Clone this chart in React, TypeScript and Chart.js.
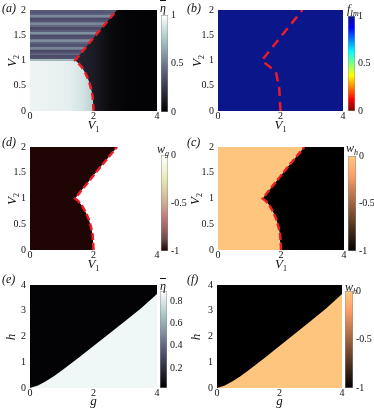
import React, { useEffect, useRef } from "react";
import { Chart, registerables } from "chart.js";
Chart.register(...registerables);

const FONT = "'Liberation Serif', 'Times New Roman', serif";
const INK = "#111";
const RED = "#ec1c24";

// ---------------- data ----------------
// phase boundary in the (V1, V2) plane: lower branch (V2 from 0 to the cusp) and upper branch
const lowerV1 = [2.0, 1.99, 1.97, 1.92, 1.85, 1.76, 1.64, 1.52, 1.42];
const lowerV2 = [0, 0.15, 0.3, 0.45, 0.6, 0.73, 0.86, 0.95, 1.0];
const upperV1 = [1.42, 1.6, 1.9, 2.2, 2.5, 2.74];
const upperV2 = [1.0, 1.14, 1.37, 1.6, 1.82, 2.0];
// coarse boundary drawn in panel (b)
const coarseV1 = [2.0, 1.96, 1.85, 1.4, 2.7];
const coarseV2 = [0, 0.45, 0.78, 1.0, 2.0];
// boundary in the (g, h) plane (panels e, f)
const boundaryG = [0, 0.25, 0.5, 0.75, 1, 1.5, 2, 2.5, 3, 3.5, 4];
const boundaryH = [0, 0.1, 0.26, 0.46, 0.68, 1.15, 1.63, 2.12, 2.6, 3.1, 3.65];
// striped eta-bar values in panel (a), V2 from 1 (first) to 2 (last)
const stripeEta = [0.72, 0.36, 0.34, 0.45, 0.38, 0.33, 0.48, 0.53, 0.37, 0.35, 0.42, 0.56, 0.5, 0.36, 0.34, 0.47, 0.57, 0.4, 0.35, 0.33, 0.44, 0.54, 0.49, 0.37, 0.34, 0.46, 0.55, 0.41, 0.36, 0.39];
const stripeFrom = 1;
const stripeTo = 2;
// axis ticks
const v1Ticks = [0, 2, 4];
const v2Ticks = [0, 0.5, 1, 1.5, 2];
const gTicks = [0, 2, 4];
const hTicks = [0, 1, 2, 3, 4];
// colour-bar ticks and ranges
const etaTicks = [0, 0.5, 1];
const fTicks = [0, 0.5, 1];
const wTicks = [-1, -0.5, 0];
const etaTicksE = [0.2, 0.4, 0.6, 0.8];
const etaRangeE = [0.02, 0.89];

// ---------------- colour maps (style) ----------------
type Stop = [number, number[]];
const BONE: Stop[] = [[0, [0, 0, 0]], [0.375, [84, 84, 116]], [0.75, [167, 199, 199]], [1, [255, 255, 255]]];
const JET_R: Stop[] = [[0, [128, 0, 0]], [0.125, [255, 0, 0]], [0.375, [255, 255, 0]], [0.625, [0, 255, 255]], [0.875, [0, 0, 255]], [1, [10, 22, 138]]];
const PINK: Stop[] = [[0, [30, 0, 0]], [0.125, [112, 74, 74]], [0.25, [159, 104, 104]], [0.375, [195, 128, 128]], [0.5, [208, 170, 147]], [0.75, [233, 233, 180]], [1, [255, 255, 255]]];
const COPPER: Stop[] = [[0, [0, 0, 0]], [0.8, [255, 159, 102]], [1, [255, 199, 127]]];

function cmap(stops: Stop[], t: number): string {
  t = Math.max(0, Math.min(1, t));
  for (let i = 1; i < stops.length; i++) {
    if (t <= stops[i][0]) {
      const [t0, c0] = stops[i - 1];
      const [t1, c1] = stops[i];
      const f = (t - t0) / (t1 - t0 || 1);
      const c = c0.map((v, k) => Math.round(v + (c1[k] - v) * f));
      return `rgb(${c[0]},${c[1]},${c[2]})`;
    }
  }
  const c = stops[stops.length - 1][1];
  return `rgb(${c[0]},${c[1]},${c[2]})`;
}

const pts = (xs: number[], ys: number[]) => xs.map((x, i) => ({ x, y: ys[i] }));
const boundaryPts = [...pts(lowerV1, lowerV2), ...pts(upperV1.slice(1), upperV2.slice(1))];

function hGradient(stops: [number, string][], fallback: string) {
  return (ctx: any) => {
    const chart = ctx.chart;
    if (!chart.chartArea) return fallback;
    const xs = chart.scales.x;
    const x0 = xs.getPixelForValue(stops[0][0]);
    const x1 = xs.getPixelForValue(stops[stops.length - 1][0]);
    const g = chart.ctx.createLinearGradient(x0, 0, x1, 0);
    stops.forEach(([v, c]) => g.addColorStop(Math.max(0, Math.min(1, (xs.getPixelForValue(v) - x0) / (x1 - x0))), c));
    return g;
  };
}

function stripeGradient(ctx: any) {
  const chart = ctx.chart;
  if (!chart.chartArea) return cmap(BONE, 0.42);
  const ys = chart.scales.y;
  const y0 = ys.getPixelForValue(stripeFrom);
  const y1 = ys.getPixelForValue(stripeTo);
  const g = chart.ctx.createLinearGradient(0, y0, 0, y1);
  const n = stripeEta.length;
  stripeEta.forEach((v, i) => {
    const c = cmap(BONE, v);
    g.addColorStop(i / n, c);
    g.addColorStop((i + 1) / n, c);
  });
  return g;
}

const region = (data: any[], bg: any, order: number) => ({
  data, fill: "shape", backgroundColor: bg, borderColor: "transparent", borderWidth: 0, pointRadius: 0, order,
});
const dashed = (data: any[], dash: number[]) => ({
  data, fill: false, borderColor: RED, borderWidth: 2.5, borderDash: dash, pointRadius: 0, order: 0, tension: 0,
});
const rect = (xMax: number, yMax: number) => [{ x: 0, y: 0 }, { x: xMax, y: 0 }, { x: xMax, y: yMax }, { x: 0, y: yMax }];

// ---------------- components ----------------
type Rect = { l: number; t: number; r: number; b: number };
type PanelSpec = {
  plot: Rect; xMax: number; yMax: number;
  xTicks: number[]; yTicks: number[]; datasets: any[];
};

const tickFont = { family: FONT, size: 10, lineHeight: 1 };
const noGrid = { display: false, drawTicks: false, tickLength: 0 };

function Panel({ spec }: { spec: PanelSpec }) {
  const ref = useRef<HTMLCanvasElement>(null);
  const { plot } = spec;
  const left = plot.l - 32;
  const top = plot.t - 10;
  const width = plot.r - left + 6;
  const height = plot.b + 14 - top;
  useEffect(() => {
    const chart = new Chart(ref.current as HTMLCanvasElement, {
      type: "line",
      data: { datasets: spec.datasets },
      options: {
        responsive: false, animation: false, events: [],
        layout: { padding: { left: 0, top: 10, right: 6, bottom: 0 } },
        plugins: { legend: { display: false }, tooltip: { enabled: false } },
        scales: {
          x: {
            type: "linear", min: 0, max: spec.xMax,
            afterBuildTicks: (a: any) => { a.ticks = spec.xTicks.map((v) => ({ value: v })); },
            afterFit: (s: any) => { s.height = 14; },
            grid: noGrid, border: { display: false },
            ticks: { font: tickFont, color: INK, padding: 0, maxRotation: 0, autoSkip: false, callback: (v: any) => String(v) },
          },
          y: {
            type: "linear", min: 0, max: spec.yMax,
            afterBuildTicks: (a: any) => { a.ticks = spec.yTicks.map((v) => ({ value: v })); },
            afterFit: (s: any) => { s.width = 32; },
            grid: noGrid, border: { display: false },
            ticks: { font: tickFont, color: INK, padding: 4, autoSkip: false, callback: (v: any) => String(v) },
          },
        },
      } as any,
    });
    return () => chart.destroy();
  }, []);
  return <canvas ref={ref} width={width} height={height} style={{ position: "absolute", left, top, width, height }} />;
}

type CbSpec = { bar: Rect; min: number; max: number; ticks: number[]; stops: Stop[] };

function ColorBar({ spec }: { spec: CbSpec }) {
  const ref = useRef<HTMLCanvasElement>(null);
  const { bar } = spec;
  const left = bar.l - 3;
  const top = bar.t - 10;
  const width = bar.r - left + 22;
  const height = bar.b + 10 - top;
  useEffect(() => {
    const chart = new Chart(ref.current as HTMLCanvasElement, {
      type: "bar",
      data: {
        labels: [""],
        datasets: [{
          data: [[spec.min, spec.max]],
          backgroundColor: (ctx: any) => {
            const c = ctx.chart;
            if (!c.chartArea) return cmap(spec.stops, 0.5);
            const ys = c.scales.y;
            const g = c.ctx.createLinearGradient(0, ys.getPixelForValue(spec.min), 0, ys.getPixelForValue(spec.max));
            spec.stops.forEach(([t, col]) => g.addColorStop(t, `rgb(${col[0]},${col[1]},${col[2]})`));
            return g;
          },
          borderColor: "rgba(130,130,130,0.9)", borderWidth: 0.8, borderSkipped: false,
          barPercentage: 1, categoryPercentage: 1,
        }],
      },
      options: {
        responsive: false, animation: false, events: [],
        layout: { padding: { left: 3, top: 10, right: 0, bottom: 10 } },
        plugins: { legend: { display: false }, tooltip: { enabled: false } },
        scales: {
          x: { display: false },
          y: {
            position: "right", min: spec.min, max: spec.max,
            afterBuildTicks: (a: any) => { a.ticks = spec.ticks.map((v) => ({ value: v })); },
            afterFit: (s: any) => { s.width = 22; },
            grid: noGrid, border: { display: false },
            ticks: { font: tickFont, color: INK, padding: 3, autoSkip: false, callback: (v: any) => String(v) },
          },
        },
      } as any,
    });
    return () => chart.destroy();
  }, []);
  return <canvas ref={ref} width={width} height={height} style={{ position: "absolute", left, top, width, height }} />;
}

const Label = ({ x, y, size = 12, children }: any) => (
  <div style={{ position: "absolute", left: x, top: y, fontFamily: FONT, fontStyle: "italic", fontSize: size, lineHeight: 1, color: INK, whiteSpace: "nowrap" }}>{children}</div>
);
const Title = ({ cx, cy, rotate = false, children }: any) => (
  <div style={{
    position: "absolute", left: cx, top: cy, fontFamily: FONT, fontStyle: "italic", fontSize: 13, lineHeight: 1, color: INK,
    whiteSpace: "nowrap", transform: `translate(-50%,-50%)${rotate ? " rotate(-90deg)" : ""}`,
  }}>{children}</div>
);
const Sub = ({ children, upright = false }: any) => (
  <span style={{ fontSize: 8, position: "relative", top: 3, fontStyle: upright ? "normal" : "italic" }}>{children}</span>
);
const EtaBar = () => <span style={{ textDecoration: "overline" }}>η</span>;

// ---------------- panels ----------------
const panelA: PanelSpec = {
  plot: { l: 30, t: 10, r: 157, b: 111 }, xMax: 4, yMax: 2, xTicks: v1Ticks, yTicks: v2Ticks,
  datasets: [
    dashed(boundaryPts, [7, 4]),
    region([{ x: 0, y: 0 }, ...pts(lowerV1, lowerV2), { x: 0, y: 1 }],
      hGradient([[0, cmap(BONE, 0.95)], [1.2, cmap(BONE, 0.93)], [1.7, cmap(BONE, 0.87)], [2.0, cmap(BONE, 0.78)]], cmap(BONE, 0.93)), 1),
    region([{ x: 0, y: 1 }, ...pts(upperV1, upperV2), { x: 0, y: 2 }], stripeGradient, 2),
    region(rect(4, 2), hGradient([[1.4, cmap(BONE, 0.17)], [2.0, cmap(BONE, 0.12)], [2.5, cmap(BONE, 0.05)], [3.0, cmap(BONE, 0.02)], [4, cmap(BONE, 0.015)]], "#050507"), 3),
  ],
};
const panelB: PanelSpec = {
  plot: { l: 218, t: 10, r: 343, b: 111 }, xMax: 4, yMax: 2, xTicks: v1Ticks, yTicks: v2Ticks,
  datasets: [dashed(pts(coarseV1, coarseV2), [9, 6]), region(rect(4, 2), "rgb(10,22,138)", 3)],
};
const panelD: PanelSpec = {
  plot: { l: 30, t: 147, r: 157, b: 250 }, xMax: 4, yMax: 2, xTicks: v1Ticks, yTicks: v2Ticks,
  datasets: [
    dashed(boundaryPts, [7, 3]),
    region([{ x: 0, y: 0 }, ...boundaryPts, { x: 0, y: 2 }], "rgb(32,5,5)", 1),
    region(rect(4, 2), "#ffffff", 3),
  ],
};
const panelC: PanelSpec = {
  plot: { l: 218, t: 147, r: 344, b: 250 }, xMax: 4, yMax: 2, xTicks: v1Ticks, yTicks: v2Ticks,
  datasets: [
    dashed(boundaryPts, [7, 3]),
    region([{ x: 0, y: 0 }, ...boundaryPts, { x: 0, y: 2 }], "rgb(253,197,126)", 1),
    region(rect(4, 2), "#000000", 3),
  ],
};
const ghUpper = [...pts(boundaryG, boundaryH), { x: 4, y: 4 }, { x: 0, y: 4 }];
const panelE: PanelSpec = {
  plot: { l: 30, t: 285, r: 157, b: 388 }, xMax: 4, yMax: 4, xTicks: gTicks, yTicks: hTicks,
  datasets: [region(ghUpper, "rgb(3,3,5)", 1), region(rect(4, 4), "rgb(240,247,247)", 3)],
};
const panelF: PanelSpec = {
  plot: { l: 217, t: 285, r: 342, b: 388 }, xMax: 4, yMax: 4, xTicks: gTicks, yTicks: hTicks,
  datasets: [region(ghUpper, "#000000", 1), region(rect(4, 4), "rgb(253,197,126)", 3)],
};

const cbA: CbSpec = { bar: { l: 161, t: 15, r: 168, b: 112 }, min: 0, max: 1, ticks: etaTicks, stops: BONE };
const cbB: CbSpec = { bar: { l: 348, t: 16, r: 355, b: 111 }, min: 0, max: 1, ticks: fTicks, stops: JET_R };
const cbD: CbSpec = { bar: { l: 161, t: 155, r: 168, b: 251 }, min: -1, max: 0, ticks: wTicks, stops: PINK };
const cbC: CbSpec = { bar: { l: 348, t: 156, r: 356, b: 251 }, min: -1, max: 0, ticks: wTicks, stops: COPPER };
const cbE: CbSpec = { bar: { l: 160, t: 291, r: 167, b: 388 }, min: etaRangeE[0], max: etaRangeE[1], ticks: etaTicksE, stops: BONE };
const cbF: CbSpec = { bar: { l: 345, t: 291, r: 353, b: 388 }, min: -1, max: 0, ticks: wTicks, stops: COPPER };

const V = ({ n }: any) => <>V<Sub upright>{n}</Sub></>;

export default function App() {
  return (
    <div style={{ position: "fixed", left: 0, top: 0, width: 374, height: 414, background: "#fff", overflow: "hidden" }}>
      <Panel spec={panelA} />
      <Panel spec={panelB} />
      <Panel spec={panelD} />
      <Panel spec={panelC} />
      <Panel spec={panelE} />
      <Panel spec={panelF} />
      <ColorBar spec={cbA} />
      <ColorBar spec={cbB} />
      <ColorBar spec={cbD} />
      <ColorBar spec={cbC} />
      <ColorBar spec={cbE} />
      <ColorBar spec={cbF} />
      {/* axis titles */}
      <Title cx={93.5} cy={124}><V n="1" /></Title>
      <Title cx={11} cy={60.5} rotate><V n="2" /></Title>
      <Title cx={280.5} cy={124}><V n="1" /></Title>
      <Title cx={196} cy={60.5} rotate><V n="2" /></Title>
      <Title cx={93.5} cy={263}><V n="1" /></Title>
      <Title cx={11} cy={198.5} rotate><V n="2" /></Title>
      <Title cx={281} cy={263}><V n="1" /></Title>
      <Title cx={194} cy={198.5} rotate><V n="2" /></Title>
      <Title cx={93.5} cy={400}>g</Title>
      <Title cx={10} cy={336.5} rotate>h</Title>
      <Title cx={279.5} cy={400}>g</Title>
      <Title cx={195} cy={336.5} rotate>h</Title>
      {/* panel labels */}
      <Label x={2} y={2}>(a)</Label>
      <Label x={187} y={2}>(b)</Label>
      <Label x={2} y={136}>(d)</Label>
      <Label x={187} y={136}>(c)</Label>
      <Label x={2} y={273}>(e)</Label>
      <Label x={187} y={273}>(f)</Label>
      {/* colour-bar titles */}
      <Label x={160} y={2}><EtaBar /></Label>
      <Label x={347} y={3}>f<Sub>Im</Sub></Label>
      <Label x={157} y={143}>w<Sub>g</Sub></Label>
      <Label x={346} y={142}>w<Sub>h</Sub></Label>
      <Label x={160} y={280}><EtaBar /></Label>
      <Label x={345} y={281}>w<Sub>h</Sub></Label>
    </div>
  );
}
